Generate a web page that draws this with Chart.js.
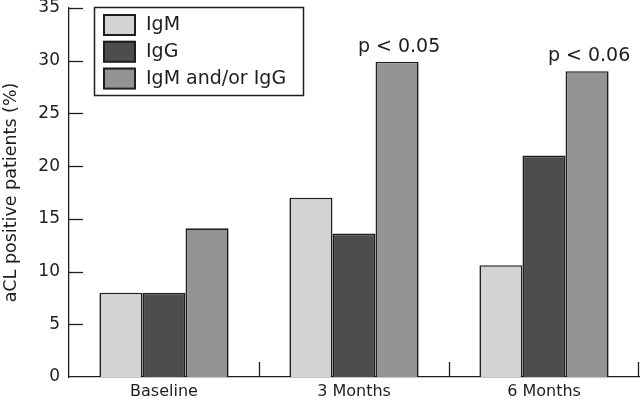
<!DOCTYPE html>
<html>
<head>
<meta charset="utf-8">
<script src="https://cdn.jsdelivr.net/npm/chart.js@4/dist/chart.umd.min.js"></script>
<style>
  html, body { margin: 0; padding: 0; background: #fff; }
  #wrap { width: 640px; height: 400px; }
</style>
</head>
<body>
<div id="wrap"><canvas id="c" width="640" height="400"></canvas></div>
<script>
const categories = ['Baseline', '3 Months', '6 Months'];
const seriesNames = ['IgM', 'IgG', 'IgM and/or IgG'];
const igmValues = [8, 17, 10.6];
const iggValues = [8, 13.6, 21];
const eitherValues = [14.1, 29.9, 29];
const pLabels = ['', 'p < 0.05', 'p < 0.06'];
const yTicks = [0, 5, 10, 15, 20, 25, 30, 35];

const FONT = '"DejaVu Sans", sans-serif';
const TXT = '#1e1e1e';
const EDGE = '#1e1e1e';
const fills = ['#d3d3d3', '#4d4d4d', '#939393'];

const overlay = {
  id: 'overlay',
  afterDatasetsDraw(chart) {
    const ctx = chart.ctx;
    const xs = chart.scales.x, ys = chart.scales.y;
    const area = chart.chartArea;
    ctx.save();
    ctx.strokeStyle = EDGE;
    ctx.lineWidth = 1.3;
    // inward y ticks
    yTicks.forEach(v => {
      if (v === 0) return;
      const y = Math.round(ys.getPixelForValue(v)) + 0.5;
      ctx.beginPath();
      ctx.moveTo(area.left, y);
      ctx.lineTo(area.left + 14, y);
      ctx.stroke();
    });
    // category separators on x axis
    for (let i = 0; i < categories.length; i++) {
      const x = (i === categories.length - 1) ? area.right - 0.5
        : Math.round((xs.getPixelForValue(i) + xs.getPixelForValue(i + 1)) / 2) + 0.5;
      ctx.beginPath();
      ctx.moveTo(x, area.bottom);
      ctx.lineTo(x, area.bottom - 15);
      ctx.stroke();
    }
    // p-value annotations above the third series
    const meta = chart.getDatasetMeta(2);
    ctx.fillStyle = TXT;
    ctx.font = '19px ' + FONT;
    ctx.textAlign = 'center';
    ctx.textBaseline = 'alphabetic';
    pLabels.forEach((t, i) => {
      if (!t) return;
      const el = meta.data[i];
      ctx.fillText(t, el.x + 2, el.y - 10);
    });
    // legend box
    const bx = 94, by = 7, bw = 209, bh = 88;
    ctx.fillStyle = '#fff';
    ctx.fillRect(bx, by, bw, bh);
    ctx.lineWidth = 1.5;
    ctx.strokeRect(bx + 0.5, by + 0.5, bw, bh);
    ctx.font = '19px ' + FONT;
    ctx.textAlign = 'left';
    ctx.textBaseline = 'middle';
    ctx.lineWidth = 2;
    chart.data.datasets.forEach((ds, i) => {
      const cy = 24 + i * 26.8;
      ctx.fillStyle = ds.backgroundColor;
      ctx.fillRect(103, cy - 10, 32, 21);
      ctx.strokeRect(104, cy - 9, 31, 20);
      ctx.fillStyle = TXT;
      ctx.fillText(ds.label, 146, cy + 1);
    });
    ctx.restore();
  }
};

new Chart(document.getElementById('c'), {
  type: 'bar',
  data: {
    labels: categories,
    datasets: [
      { label: seriesNames[0], data: igmValues, backgroundColor: fills[0] },
      { label: seriesNames[1], data: iggValues, backgroundColor: fills[1] },
      { label: seriesNames[2], data: eitherValues, backgroundColor: fills[2] }
    ]
  },
  options: {
    responsive: false,
    animation: false,
    layout: { padding: { top: 8, right: 1, left: 0, bottom: 0 } },
    datasets: {
      bar: {
        borderColor: EDGE,
        borderWidth: 1.6,
        categoryPercentage: 0.68,
        barPercentage: 1.0
      }
    },
    plugins: { legend: { display: false }, tooltip: { enabled: false } },
    scales: {
      x: {
        grid: { display: false, drawTicks: false },
        border: { display: true, color: EDGE, width: 1.3 },
        ticks: { color: TXT, font: { family: FONT, size: 16 }, padding: 5, maxRotation: 0 },
        afterFit(s) { s.height = 23; s.paddingLeft = 0; s.paddingRight = 0; }
      },
      y: {
        min: 0, max: 35,
        afterBuildTicks(s) { s.ticks = yTicks.map(v => ({ value: v })); },
        grid: { display: false, drawTicks: false },
        border: { display: true, color: EDGE, width: 1.3 },
        ticks: { color: TXT, font: { family: FONT, size: 17, lineHeight: 1.0 }, padding: 9 },
        title: {
          display: true,
          text: 'aCL positive patients (%)',
          color: TXT,
          font: { family: FONT, size: 17.5 },
          padding: { top: 1, bottom: 0 }
        },
        afterFit(s) { s.width = 69; s.paddingTop = 0; s.paddingBottom = 0; }
      }
    }
  },
  plugins: [overlay]
});
</script>
</body>
</html>
